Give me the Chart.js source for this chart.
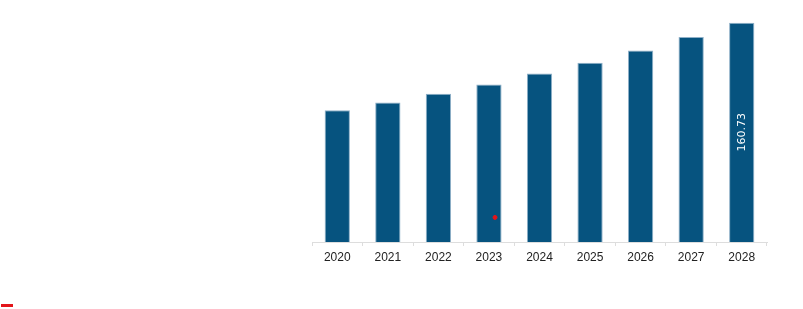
<!DOCTYPE html>
<html>
<head>
<meta charset="utf-8">
<script src="https://cdn.jsdelivr.net/npm/chart.js@4.4.0/dist/chart.umd.min.js"></script>
<style>
  html, body { margin: 0; padding: 0; background: #fff; }
  #wrap { width: 803px; height: 309px; position: relative; }
</style>
</head>
<body>
<div id="wrap"><canvas id="chart"></canvas></div>
<script>
const years = ["2020", "2021", "2022", "2023", "2024", "2025", "2026", "2027", "2028"];
const marketValues = [96.5, 102.3, 108.7, 115.5, 123.4, 131.4, 140.4, 150.2, 160.73];
// only the last bar carries a printed value
const shownLabels = [null, null, null, null, null, null, null, null, "160.73"];
// small red marker that sits on the 2023 bar
const markerPoints = [{ x: 3.12, y: 18 }];

const barLabelPlugin = {
    id: 'barLabel',
    afterDatasetsDraw(chart) {
        const meta = chart.getDatasetMeta(0);
        const ctx = chart.ctx;
        ctx.save();
        ctx.fillStyle = '#ffffff';
        ctx.font = '11px "DejaVu Sans", sans-serif';
        ctx.textAlign = 'center';
        ctx.textBaseline = 'middle';
        meta.data.forEach((bar, i) => {
            if (!shownLabels[i]) return;
            const midY = (bar.y + bar.base) / 2;
            ctx.save();
            ctx.translate(bar.x, midY);
            ctx.rotate(-Math.PI / 2);
            ctx.fillText(shownLabels[i], 0, 0);
            ctx.restore();
        });
        ctx.restore();
    }
};

new Chart(document.getElementById('chart').getContext('2d'), {
    data: {
        labels: years,
        datasets: [
            {
                type: 'bar',
                label: 'Market',
                data: marketValues,
                backgroundColor: '#06537f',
                borderColor: '#8fb0c8',
                borderWidth: 1,
                borderSkipped: 'bottom',
                barPercentage: 0.5,
                categoryPercentage: 1.0,
                grouped: false,
                order: 2
            },
            {
                type: 'scatter',
                label: '',
                data: markerPoints,
                xAxisID: 'x2',
                backgroundColor: '#e3151a',
                borderColor: '#e3151a',
                pointRadius: 2,
                pointStyle: 'circle',
                order: 1
            }
        ]
    },
    plugins: [barLabelPlugin],
    options: {
        responsive: true,
        maintainAspectRatio: false,
        animation: false,
        layout: { padding: { left: 0, right: 36, top: 10, bottom: 0 } },
        scales: {
            x: {
                type: 'category',
                offset: true,
                grid: {
                    display: true,
                    drawOnChartArea: false,
                    drawTicks: true,
                    tickLength: 4,
                    color: '#dddddd',
                    offset: true
                },
                border: { display: true, color: '#dddddd' },
                ticks: {
                    color: '#222222',
                    font: { family: '"Liberation Sans", Arial, sans-serif', size: 12 },
                    padding: 4,
                    maxRotation: 0
                },
                afterFit: (scale) => { scale.height = 61; }
            },
            x2: {
                type: 'linear',
                display: false,
                min: -0.5,
                max: 8.5
            },
            y: {
                display: true,
                min: 0,
                max: 170,
                grid: { display: false },
                border: { display: false },
                ticks: { display: false },
                afterFit: (scale) => { scale.width = 312; }
            }
        },
        plugins: {
            legend: {
                display: true,
                position: 'bottom',
                align: 'start',
                maxHeight: 6,
                labels: {
                    boxWidth: 12,
                    boxHeight: 3,
                    padding: 1,
                    useBorderRadius: true,
                    borderRadius: 1.5,
                    font: { size: 1 },
                    generateLabels: () => [{
                        text: '',
                        fillStyle: '#e3151a',
                        strokeStyle: '#e3151a',
                        lineWidth: 0,
                        datasetIndex: 1
                    }]
                }
            },
            tooltip: { enabled: false }
        }
    }
});
</script>
</body>
</html>
